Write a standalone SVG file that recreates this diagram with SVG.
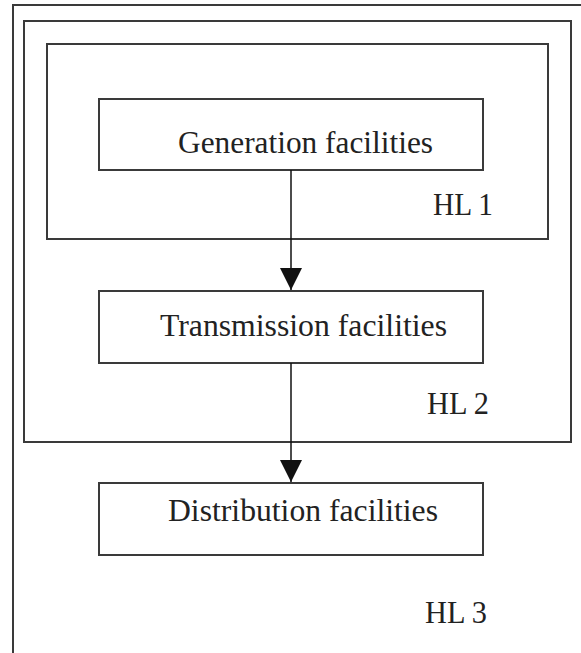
<svg xmlns="http://www.w3.org/2000/svg" width="581" height="653" viewBox="0 0 581 653">
<style>
.box{fill:none;stroke:#3a3a3a;stroke-width:2}
.lbl{font-family:'Liberation Serif','Times New Roman',serif;font-size:32px;fill:#222}
.conn{stroke:#111;stroke-width:1.5;fill:none}
</style>
<defs>
<marker id="ah" markerUnits="userSpaceOnUse" markerWidth="24" markerHeight="22" refX="22" refY="11" orient="auto">
<path d="M0,0 L22,11 L0,22 Z" fill="#111"/>
</marker>
</defs>
<rect width="581" height="653" fill="#fff"/>
<g id="hl3">
<rect class="box" x="13" y="5" width="600" height="700"/>
<text class="lbl" x="425" y="623" textLength="62" lengthAdjust="spacingAndGlyphs">HL 3</text>
</g>
<g id="hl2">
<rect class="box" x="24" y="21" width="547" height="421"/>
<text class="lbl" x="427" y="414" textLength="62" lengthAdjust="spacingAndGlyphs">HL 2</text>
</g>
<g id="hl1">
<rect class="box" x="47" y="44" width="501" height="195"/>
<text class="lbl" x="433" y="215" textLength="60" lengthAdjust="spacingAndGlyphs">HL 1</text>
</g>
<g id="generation">
<rect class="box" x="99" y="99" width="384" height="71"/>
<text class="lbl" x="178" y="153" textLength="255" lengthAdjust="spacingAndGlyphs">Generation facilities</text>
</g>
<g id="transmission">
<rect class="box" x="99" y="291" width="384" height="72"/>
<text class="lbl" x="160" y="336" textLength="287" lengthAdjust="spacingAndGlyphs">Transmission facilities</text>
</g>
<g id="distribution">
<rect class="box" x="99" y="483" width="384" height="72"/>
<text class="lbl" x="168" y="521" textLength="270" lengthAdjust="spacingAndGlyphs">Distribution facilities</text>
</g>
<g id="connectors">
<line class="conn" x1="291" y1="170" x2="291" y2="290" marker-end="url(#ah)"/>
<line class="conn" x1="291" y1="363" x2="291" y2="482" marker-end="url(#ah)"/>
</g>
</svg>
